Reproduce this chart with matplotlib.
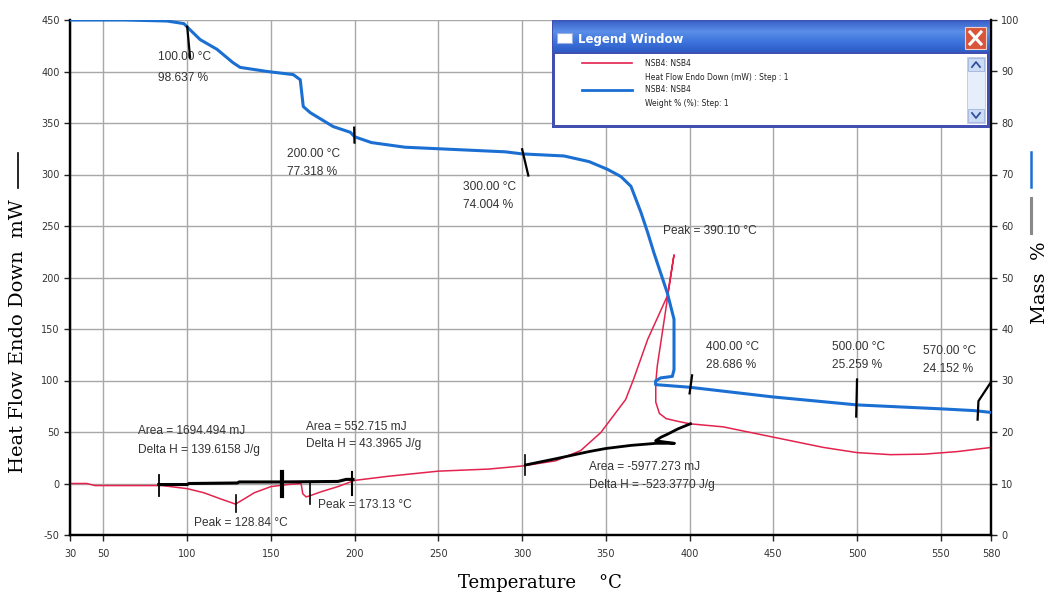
import matplotlib
matplotlib.use("Agg")
import matplotlib.pyplot as plt
import numpy as np
from matplotlib.patches import Rectangle
from matplotlib.lines import Line2D
from matplotlib.colors import LinearSegmentedColormap

plt.rcParams["axes.unicode_minus"] = False

# ---------------- data ----------------
hf_temp = [30, 40, 45, 60, 85, 90, 100, 110, 120, 128.84, 135, 140, 150, 160, 168, 169, 171, 173.13,
           180, 190, 195, 200, 220, 250, 280, 300, 320, 335, 347, 361.8, 366.5, 375, 386.7, 390.7,
           380.7, 379.8, 379.8, 382, 386, 392.6, 400, 420, 450, 480, 500, 520, 540, 560, 580]
hf_val = [0, 0, -2, -2, -2, -3, -5, -9, -15, -20, -14, -9, -3, -1, 0, -10, -13, -12,
          -8, -3, 0, 3, 7, 12, 14, 17, 22, 32, 49.5, 81.5, 101, 140, 182, 222,
          114, 98, 79, 68, 63, 60.5, 58, 55, 45, 35, 30, 28, 28.5, 31, 35]

mass_temp = [30, 63, 88, 98, 100, 107.7, 117.8, 127.4, 131.6, 147.8, 163.3, 167.5, 169.3, 173.5,
             187.2, 197.4, 200, 210, 230, 250, 270, 290, 300, 325, 340, 351, 359, 365, 371, 375,
             378.7, 382.7, 386.7, 390.7, 390.7, 389.7, 382.7, 379.7, 379.7, 400, 450, 500, 550,
             570, 580]
mass_val = [100, 100, 99.8, 99.3, 98.64, 96.2, 94.3, 91.7, 90.8, 90.0, 89.4, 88.4, 83.2, 82.0,
            79.3, 78.2, 77.32, 76.2, 75.3, 75, 74.7, 74.4, 74.0, 73.6, 72.5, 71.0, 69.6, 67.7,
            62.6, 58.7, 54.8, 50.9, 47.0, 41.9, 32.1, 30.8, 30.5, 29.9, 29.2, 28.69, 26.8, 25.26,
            24.5, 24.15, 23.8]

# integration baselines (heat flow units)
base1_t = [83, 100, 101, 130, 131, 157, 190, 195, 199]
base1_v = [-1, -1, 0, 0.5, 1.5, 1.5, 2, 4, 4]
base2_t = [302, 320, 340, 350, 365, 380, 391, 379.7, 383, 387, 393, 400.5]
base2_v = [18, 24, 31, 34, 37, 39, 39, 41.5, 45, 48, 53, 58]

# limit / peak markers (temperature, lower, upper) in heat flow units
marks_t = [83.2, 156.5, 198.6, 129.2, 173.4, 302]
marks_lo = [-11.7, -12.6, -11, -28, -20, 8]
marks_hi = [8.7, 10.7, 11, -10.7, 1, 28]
marks_lw = [1.3, 3.0, 1.5, 1.2, 1.2, 1.2]

# mass step markers (mass units)
mm_t = [[100, 101.7], [199.7, 199.9], [300, 303.7], [401.5, 400], [500, 499.5], [580, 572.5, 572]]
mm_v = [[98.7, 92.7], [79.1, 76.2], [74.9, 69.8], [31, 27.5], [30.2, 23], [29.7, 26, 22.4]]

xticks = [30, 50, 100, 150, 200, 250, 300, 350, 400, 450, 500, 550, 580]
yticks_left = [-50, 0, 50, 100, 150, 200, 250, 300, 350, 400, 450]
yticks_right = [0, 10, 20, 30, 40, 50, 60, 70, 80, 90, 100]

annotations = [
    (82.6, 413.6, "100.00 °C"), (82.6, 394, "98.637 %"),
    (159.7, 320, "200.00 °C"), (159.7, 302, "77.318 %"),
    (264.4, 288, "300.00 °C"), (264.4, 270.5, "74.004 %"),
    (383.9, 245.6, "Peak = 390.10 °C"),
    (409.6, 133, "400.00 °C"), (409.6, 115.5, "28.686 %"),
    (484.9, 133, "500.00 °C"), (484.9, 115.5, "25.259 %"),
    (539.3, 129, "570.00 °C"), (539.3, 111, "24.152 %"),
    (70.7, 50.5, "Area = 1694.494 mJ"), (70.7, 33, "Delta H = 139.6158 J/g"),
    (171.1, 54.4, "Area = 552.715 mJ"), (171.1, 37.9, "Delta H = 43.3965 J/g"),
    (104.1, -37.9, "Peak = 128.84 °C"),
    (178.3, -20.4, "Peak = 173.13 °C"),
    (339.7, 16.5, "Area = -5977.273 mJ"), (339.7, -1, "Delta H = -523.3770 J/g"),
]

# ---------------- figure ----------------
W, H = 1049, 594
fig = plt.figure(figsize=(W / 100, H / 100), dpi=100)
fig.patch.set_facecolor("white")
ax = fig.add_axes([70 / W, 1 - 535 / H, (991 - 70) / W, (535 - 20) / H])
ax2 = ax.twinx()

RED = "#e3234e"
BLUE = "#1b6fd2"
TXT = "#333333"

ax.set_xlim(30, 580)
ax.set_ylim(-50, 450)
ax2.set_ylim(0, 100)

ax.set_xticks(xticks)
ax.set_yticks(yticks_left)
ax2.set_yticks(yticks_right)
ax.grid(True, color="#a8a8a8", lw=1.0)
ax.set_axisbelow(True)
ax.tick_params(axis="both", labelsize=7, colors="#222222", length=4, width=1)
ax.tick_params(axis="x", pad=6)
ax2.tick_params(axis="y", labelsize=7, colors="#222222", length=4, width=1)
for t in ax.get_xticklabels() + ax.get_yticklabels() + ax2.get_yticklabels():
    t.set_color(TXT)
for sp in ["left", "bottom", "right"]:
    ax.spines[sp].set_linewidth(1.6)
    ax2.spines[sp].set_linewidth(1.6)
ax.spines["top"].set_visible(False)
ax2.spines["top"].set_visible(False)

# curves
ax.plot(hf_temp, hf_val, color=RED, lw=1.1, zorder=3)
ax2.plot(mass_temp, mass_val, color=BLUE, lw=2.2, zorder=3)

ax.plot(base1_t, base1_v, color="black", lw=2.2, zorder=4)
ax.plot(base2_t, base2_v, color="black", lw=2.0, zorder=4)
for t, lo, hi, lw in zip(marks_t, marks_lo, marks_hi, marks_lw):
    ax.plot([t, t], [lo, hi], color="black", lw=lw, zorder=4)
for ts, vs in zip(mm_t, mm_v):
    ax2.plot(ts, vs, color="black", lw=1.6, zorder=4)

for x, y, s in annotations:
    ax.text(x, y, s, fontsize=8.6, color=TXT, family="Liberation Sans", va="center", ha="left", zorder=5)

# axis titles (figure pixel positions)
fig.text(540 / W, 1 - 583 / H, "Temperature    °C", family="DejaVu Serif", fontsize=13,
         ha="center", va="center")
fig.text(18 / W, 1 - 336 / H, "Heat Flow Endo Down  mW", family="DejaVu Serif", fontsize=14,
         ha="center", va="center", rotation=90)
fig.add_artist(Line2D([18 / W, 18 / W], [1 - 153 / H, 1 - 188 / H], color="black", lw=1.2))
fig.text(1040 / W, 1 - 283 / H, "Mass  %", family="DejaVu Serif", fontsize=14,
         ha="center", va="center", rotation=90)

# line-style indicators next to the right axis title
fig.add_artist(Line2D([1031 / W, 1031 / W], [1 - 152 / H, 1 - 187 / H], color=BLUE, lw=1.8))
fig.add_artist(Line2D([1031 / W, 1031 / W], [1 - 198 / H, 1 - 233 / H], color="#888888", lw=2.2))

# ---------------- legend window ----------------
lx0, ly0, lw_, lh_ = 552, 20, 438, 108
lg = fig.add_axes([lx0 / W, 1 - (ly0 + lh_) / H, lw_ / W, lh_ / H])
lg.set_xlim(0, lw_)
lg.set_ylim(lh_, 0)
lg.axis("off")
lg.add_patch(Rectangle((0, 0), lw_, lh_, facecolor="#4150b0", edgecolor="none", zorder=1))
grad = np.linspace(0, 1, 64).reshape(-1, 1)
cm = LinearSegmentedColormap.from_list("tb", ["#3a62c9", "#5a8ee8", "#3d74dc", "#2e5cc6"])
lg.imshow(grad, extent=(1, lw_ - 1, 32, 1), cmap=cm, aspect="auto", zorder=2)
lg.add_patch(Rectangle((3, 34), lw_ - 6, 71, facecolor="white", edgecolor="none", zorder=3))
lg.add_patch(Rectangle((5, 13), 15, 10, facecolor="white", edgecolor="#9ab0e0", lw=0.8, zorder=4))
lg.text(26, 19, "Legend Window", color="white", fontsize=8.5, fontweight="bold",
        family="DejaVu Sans", va="center", ha="left", zorder=4)
lg.add_patch(Rectangle((413, 7), 21, 22, facecolor="#d8553a", edgecolor="#f0d0c8", lw=0.8, zorder=4))
lg.plot([418, 429], [12, 24], color="white", lw=2.2, zorder=5)
lg.plot([418, 429], [24, 12], color="white", lw=2.2, zorder=5)
lg.add_patch(Rectangle((415, 37), 18, 66, facecolor="#e6eefb", edgecolor="#b8c8e8", lw=0.6, zorder=4))
lg.add_patch(Rectangle((416, 38), 16, 13, facecolor="#cddcf5", edgecolor="#a0b4dc", lw=0.6, zorder=5))
lg.add_patch(Rectangle((416, 89), 16, 13, facecolor="#cddcf5", edgecolor="#a0b4dc", lw=0.6, zorder=5))
lg.plot([420, 424, 428], [47, 42, 47], color="#3050a0", lw=1.3, zorder=6)
lg.plot([420, 424, 428], [93, 98, 93], color="#3050a0", lw=1.3, zorder=6)
lg.plot([30, 80], [43, 43], color=RED, lw=1.2, zorder=5)
lg.plot([30, 80], [70, 70], color=BLUE, lw=2.0, zorder=5)
leg_texts = [(43, "NSB4: NSB4"), (57, "Heat Flow Endo Down (mW) : Step : 1"),
             (70, "NSB4: NSB4"), (83, "Weight % (%): Step: 1")]
for y, s in leg_texts:
    lg.text(93, y, s, fontsize=5.5, color="#222222", family="DejaVu Sans", va="center", ha="left", zorder=5)

fig.savefig("out.png", dpi=100)
